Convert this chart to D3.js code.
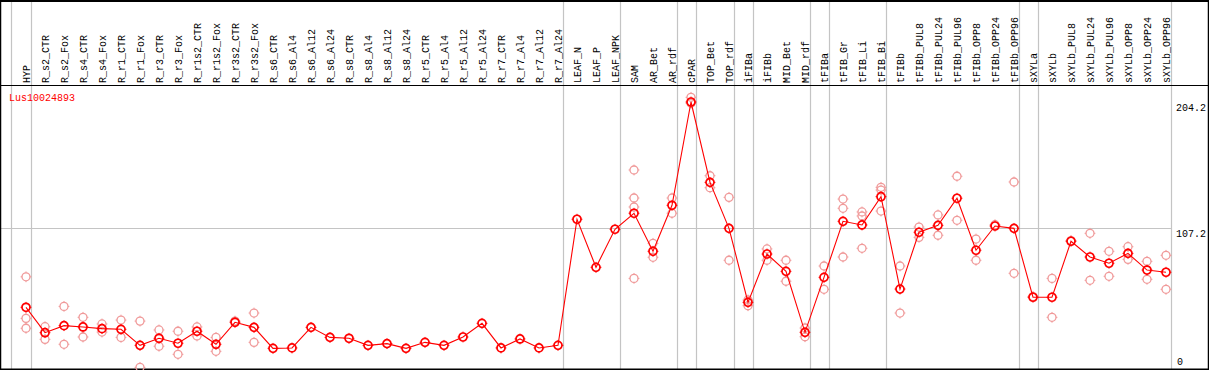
<!doctype html>
<html>
<head>
<style>
  body { margin: 0; background: #fff; }
  text { font-family: "Liberation Mono", "DejaVu Sans Mono", monospace; font-size: 10px; }
</style>
<script src="https://d3js.org/d3.v7.min.js"></script>
</head>
<body>
<svg width="1209" height="370"></svg>
<script>

var title = "Lus10024893";

var samples = ["HYP", "R_s2_CTR", "R_s2_Fox", "R_s4_CTR", "R_s4_Fox", "R_r1_CTR", "R_r1_Fox",
  "R_r3_CTR", "R_r3_Fox", "R_r1s2_CTR", "R_r1s2_Fox", "R_r3s2_CTR", "R_r3s2_Fox", "R_s6_CTR",
  "R_s6_Al4", "R_s6_Al12", "R_s6_Al24", "R_s8_CTR", "R_s8_Al4", "R_s8_Al12", "R_s8_Al24",
  "R_r5_CTR", "R_r5_Al4", "R_r5_Al12", "R_r5_Al24", "R_r7_CTR", "R_r7_Al4", "R_r7_Al12", "R_r7_Al24",
  "LEAF_N", "LEAF_P", "LEAF_NPK", "SAM", "AR_Bet", "AR_rdf", "cPAR", "TOP_Bet", "TOP_rdf",
  "iFIBa", "iFIBb", "MID_Bet", "MID_rdf", "tFIBa", "tFIB_Gr", "tFIB_Li", "tFIB_Bi", "tFIBb",
  "tFIBb_PUL8", "tFIBb_PUL24", "tFIBb_PUL96", "tFIBb_OPP8", "tFIBb_OPP24", "tFIBb_OPP96",
  "sXYLa", "sXYLb", "sXYLb_PUL8", "sXYLb_PUL24", "sXYLb_PUL96", "sXYLb_OPP8", "sXYLb_OPP24", "sXYLb_OPP96"];

// last sample of each group (a grey separator follows it)
var groupEnds = ["HYP", "R_r7_Al24", "LEAF_NPK", "AR_rdf", "cPAR", "TOP_rdf", "iFIBa", "MID_rdf",
  "tFIBa", "tFIB_Bi", "tFIBb_OPP96", "sXYLa", "sXYLb_OPP96"];

var means = [46.6, 27.1, 32.5, 31.5, 30.2, 29.7, 17.4, 22.8, 19.0, 28.2, 18.2, 35.1, 31.2, 15.1, 15.4,
  31.2, 23.5, 22.8, 17.4, 18.7, 15.1, 19.7, 17.4, 23.8, 34.3, 15.4, 22.3, 15.4, 17.4,
  114.2, 77.3, 106.5, 118.8, 89.6, 124.9, 204.2, 142.5, 107.2, 50.4, 87.5, 74.2, 27.4, 69.6,
  112.6, 109.8, 131.5, 60.6, 104.2, 109.5, 130.3, 90.4, 109.0, 107.2, 54.3, 54.3, 97.3, 85.2,
  80.4, 88.0, 75.2, 73.5];

var replicates = [
  [70, 38.1, 30.5], [31.7, 22], [47.3, 18.2], [38.9, 23.8], [33.8, 27.6], [36.8, 23.5],
  [36, 0.5], [29.2, 16.7], [28.2, 10.5], [31.5, 24.6], [23.5, 12.8], [36], [42.2, 19.7],
  [], [], [], [], [], [], [], [], [], [], [], [], [], [], [], [],
  [], [], [],
  [152, 130.5, 123.6, 68.8], [95.7, 85], [130.5, 118.8], [207.8, 203.2], [147.6, 138.4],
  [131, 82.7], [47.8, 52.2], [91.4, 82.7], [82.7, 66.6], [30.7, 24], [78.3, 60.4],
  [129.7, 122.6, 85.2], [119.8, 116.7, 91.9], [138.7, 136.6, 120.5], [78.3, 42.2],
  [108.2, 100.3], [117.5, 101.9], [147.2, 113.4], [99, 82.7], [110], [142.8, 72.7],
  [54.8], [68.8, 38.9], [97.8], [103.4, 67.3], [89.6, 70.4], [93.1, 83.4], [81.9, 68.1],
  [86.5, 60.4]];

var yTicks = [0, 107.2, 204.2];

var svg = d3.select("svg"),
    W = 1209,
    headerBottom = 85,
    plotRight = 1171,
    plotBottom = 369;

var x = d3.scalePoint().domain(samples).range([26, 1166]);
var y = d3.scaleLinear().domain([0, 204.2]).range([368, 102]);

var red = "#ff0000", pink = "#f09a9a", grey = "#c4c4c4";

// grey group separators, through header and plot
var seps = [x(samples[0]) - x.step() + 3.7].concat(groupEnds.map(function(d) { return x(d) + 4.7; }));
svg.selectAll(".sep")
   .data(seps)
   .enter().append("line")
   .attr("x1", function(d) { return Math.round(d) + 0.5; })
   .attr("x2", function(d) { return Math.round(d) + 0.5; })
   .attr("y1", 0)
   .attr("y2", plotBottom)
   .attr("stroke", grey)
   .attr("stroke-width", 1.2);

// horizontal grid at middle tick
svg.append("line")
   .attr("x1", 0).attr("x2", plotRight)
   .attr("y1", Math.round(y(yTicks[1])) + 0.5)
   .attr("y2", Math.round(y(yTicks[1])) + 0.5)
   .attr("stroke", grey)
   .attr("stroke-width", 1.2);

// frame
svg.append("line").attr("x1", 0).attr("x2", W).attr("y1", 1).attr("y2", 1)
   .attr("stroke", "#000").attr("stroke-width", 2);
svg.append("line").attr("x1", 0).attr("x2", W).attr("y1", headerBottom + 0.5).attr("y2", headerBottom + 0.5)
   .attr("stroke", "#000").attr("stroke-width", 1.2);
svg.append("line").attr("x1", 0).attr("x2", W).attr("y1", plotBottom + 0.5).attr("y2", plotBottom + 0.5)
   .attr("stroke", "#000").attr("stroke-width", 2);
svg.append("line").attr("x1", 0.5).attr("x2", 0.5).attr("y1", 0).attr("y2", 370)
   .attr("stroke", "#000").attr("stroke-width", 1.5);
svg.append("line").attr("x1", W - 0.5).attr("x2", W - 0.5).attr("y1", 0).attr("y2", 370)
   .attr("stroke", "#000").attr("stroke-width", 1.5);

// sample labels
svg.selectAll(".lab")
   .data(samples)
   .enter().append("text")
   .attr("transform", function(d) { return "translate(" + (x(d) + 3.5) + "," + 83 + ") rotate(-90)"; })
   .attr("fill", "#000")
   .text(function(d) { return d; });

// title
svg.append("text")
   .attr("x", 9)
   .attr("y", 101)
   .attr("fill", red)
   .text(title);

// value labels on the right
svg.selectAll(".ytick")
   .data(yTicks)
   .enter().append("text")
   .attr("x", function(d) { return d === 0 ? 1177 : 1176; })
   .attr("y", function(d) { return d === 0 ? 365 : y(d) + 9; })
   .attr("fill", "#000")
   .text(function(d) { return d; });

function marker(sel, color, sw) {
  sel.append("circle")
     .attr("r", 4)
     .attr("fill", "none")
     .attr("stroke", color)
     .attr("stroke-width", sw);
  sel.append("path")
     .attr("d", "M0,-5.4V-4M0,4V5.4M-5.4,0H-4M4,0H5.4")
     .attr("stroke", color)
     .attr("stroke-width", 1);
}

// replicate points
var repPts = [];
replicates.forEach(function(r, i) {
  r.forEach(function(v) { repPts.push({ s: samples[i], v: v }); });
});
svg.selectAll(".rep")
   .data(repPts)
   .enter().append("g")
   .attr("transform", function(d) { return "translate(" + x(d.s) + "," + y(d.v) + ")"; })
   .call(marker, pink, 1.3);

// mean line
var pts = samples.map(function(s, i) { return { s: s, v: means[i] }; });
svg.append("path")
   .datum(pts)
   .attr("fill", "none")
   .attr("stroke", red)
   .attr("stroke-width", 1.1)
   .attr("d", d3.line()
      .x(function(d) { return x(d.s); })
      .y(function(d) { return y(d.v); }));

svg.selectAll(".mean")
   .data(pts)
   .enter().append("g")
   .attr("transform", function(d) { return "translate(" + x(d.s) + "," + y(d.v) + ")"; })
   .call(marker, red, 1.7);

</script>
</body>
</html>
